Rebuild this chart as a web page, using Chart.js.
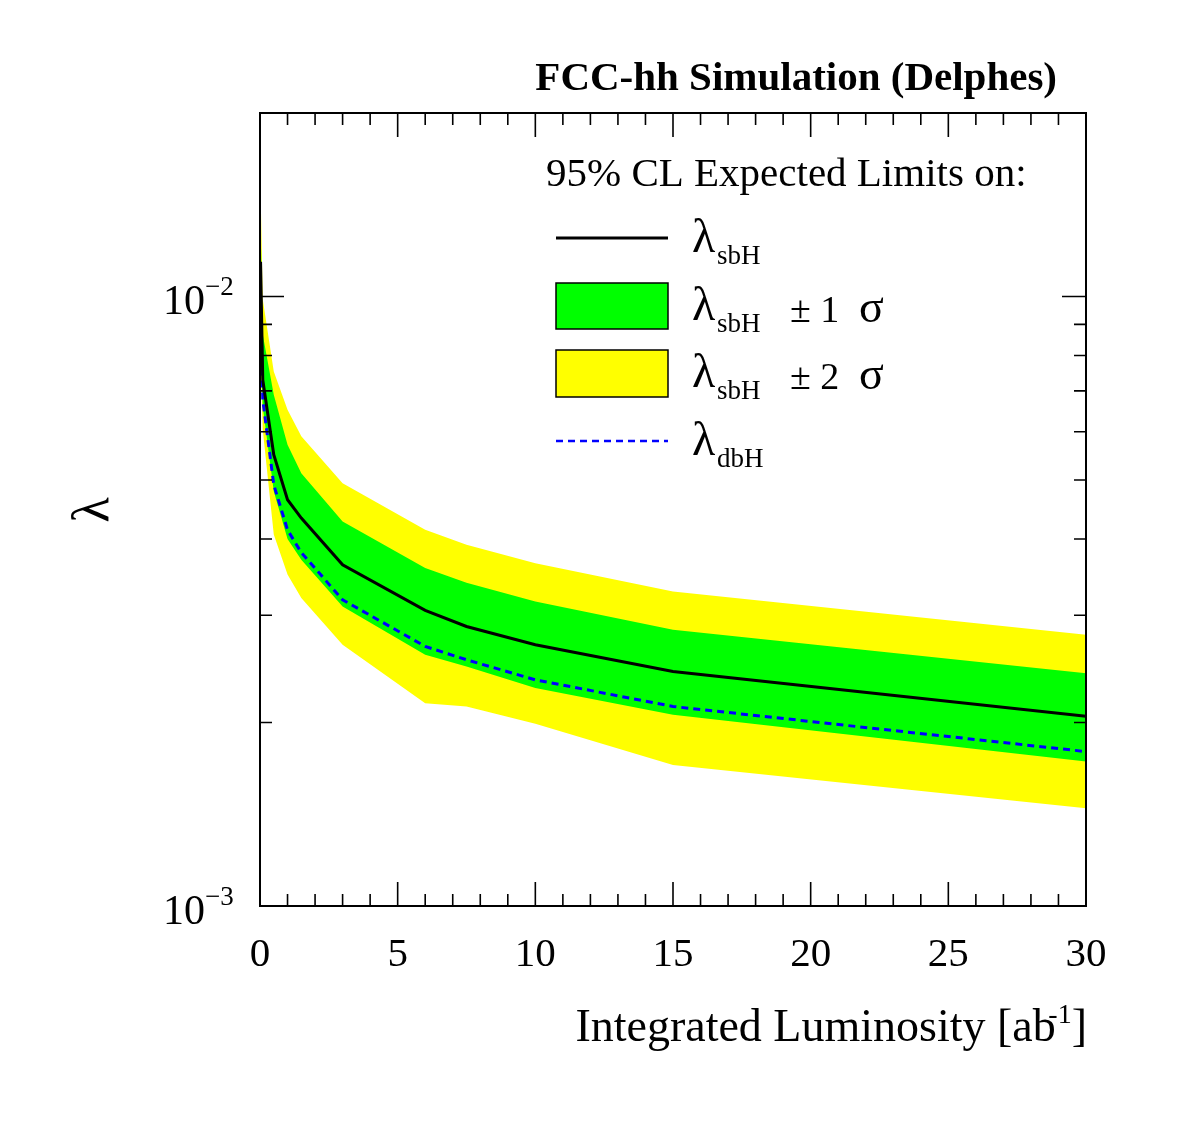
<!DOCTYPE html>
<html>
<head>
<meta charset="utf-8">
<script src="https://cdn.jsdelivr.net/npm/chart.js@4.4.1/dist/chart.umd.min.js"></script>
<style>
  body { margin: 0; background: #fff; }
  #wrap { width: 1182px; height: 1134px; }
</style>
</head>
<body>
<div id="wrap"><canvas id="myChart" width="1182" height="1134"></canvas></div>
<script>
// integrated luminosity [ab^-1]
let lumi   = [0.02, 0.1, 0.5, 1, 1.5, 3, 6, 7.5, 10, 15, 30];
// expected limits
let sbH    = [0.0114, 0.0073, 0.0055, 0.00464, 0.00433, 0.00363, 0.003055, 0.002875, 0.002683, 0.002426, 0.002047];
let dbH    = [0.0100, 0.00677, 0.00491, 0.00414, 0.0038, 0.00318, 0.002666, 0.002535, 0.00235, 0.002125, 0.001792];
let plus1  = [0.0131, 0.00866, 0.0069, 0.00571, 0.00513, 0.004275, 0.003585, 0.00339, 0.00316, 0.00284, 0.00241];
let minus1 = [0.0085, 0.0066, 0.00479, 0.0040, 0.0037, 0.0031, 0.002584, 0.002472, 0.002278, 0.00206, 0.001726];
let plus2  = [0.015, 0.0099, 0.00753, 0.00652, 0.0059, 0.00494, 0.004143, 0.003915, 0.003652, 0.003281, 0.002786];
let minus2 = [0.0079, 0.00605, 0.00407, 0.0035, 0.0032, 0.002683, 0.00215, 0.002125, 0.00199, 0.001704, 0.001446];

let xTicks = [0, 5, 10, 15, 20, 25, 30];
let yTicks = [0.001, 0.01];
let yTickExp = ["\u22123", "\u22122"];

function pts(arr) {
  return lumi.map((x, i) => ({x: x, y: arr[i]}));
}

const serif = '"Liberation Serif", "DejaVu Serif", serif';

// ROOT-like frame, inward ticks, labels and legend
const rootStyle = {
  id: 'rootStyle',
  afterDraw(chart) {
    let ctx = chart.ctx;
    let a = chart.chartArea;
    let xs = chart.scales.x, ys = chart.scales.y;
    ctx.save();
    ctx.strokeStyle = '#000';
    ctx.lineWidth = 2;
    ctx.strokeRect(a.left, a.top, a.right - a.left, a.bottom - a.top);

    ctx.lineWidth = 1.6;
    ctx.beginPath();
    for (let v = 0; v <= 30; v++) {
      let px = xs.getPixelForValue(v);
      let len = (v % 5 == 0) ? 24 : 12;
      ctx.moveTo(px, a.bottom); ctx.lineTo(px, a.bottom - len);
      ctx.moveTo(px, a.top); ctx.lineTo(px, a.top + len);
    }
    for (let d = 0.001; d <= 0.01; d *= 10) {
      for (let m = 1; m <= 9; m++) {
        let v = d * m;
        if (v > 0.02 + 1e-9) continue;
        let py = ys.getPixelForValue(v);
        let len = (m == 1) ? 24 : 12;
        ctx.moveTo(a.left, py); ctx.lineTo(a.left + len, py);
        ctx.moveTo(a.right, py); ctx.lineTo(a.right - len, py);
      }
    }
    ctx.stroke();

    ctx.fillStyle = '#000';
    // x tick labels
    ctx.font = '41px ' + serif;
    ctx.textAlign = 'center';
    ctx.textBaseline = 'alphabetic';
    xTicks.forEach(v => {
      ctx.fillText(String(v), xs.getPixelForValue(v), 966);
    });
    // y tick labels 10^n
    yTicks.forEach((v, i) => {
      let py = ys.getPixelForValue(v);
      ctx.font = '42px ' + serif;
      ctx.textAlign = 'right';
      ctx.fillText('10', 205, py + 18);
      ctx.font = '27px ' + serif;
      ctx.textAlign = 'left';
      ctx.fillText(yTickExp[i], 205, py - 1);
    });

    // x title
    ctx.font = '46px ' + serif;
    ctx.textAlign = 'right';
    ctx.fillText(']', 1087, 1041);
    let w1 = ctx.measureText(']').width;
    ctx.font = '28px ' + serif;
    ctx.fillText('-1', 1087 - w1, 1023);
    let w2 = ctx.measureText('1').width;
    ctx.font = '46px ' + serif;
    ctx.fillText('Integrated Luminosity [ab', 1087 - w1 - w2 - 2, 1041);

    // y title (rotated lambda)
    ctx.save();
    ctx.translate(108, 510);
    ctx.rotate(-Math.PI / 2);
    ctx.font = '52px ' + serif;
    ctx.textAlign = 'center';
    ctx.fillText('\u03bb', 0, 0);
    ctx.restore();

    // header
    ctx.font = 'bold 41px ' + serif;
    ctx.textAlign = 'right';
    ctx.fillText('FCC-hh Simulation (Delphes)', 1057, 90);

    // legend
    ctx.font = '41px ' + serif;
    ctx.textAlign = 'left';
    ctx.fillText('95% CL Expected Limits on:', 546, 186);

    let lx0 = 556, lx1 = 668, tx = 693;
    ctx.lineWidth = 3;
    ctx.strokeStyle = '#000';
    ctx.beginPath(); ctx.moveTo(lx0, 238); ctx.lineTo(lx1, 238); ctx.stroke();

    ctx.lineWidth = 1.5;
    ctx.fillStyle = '#00ff00';
    ctx.fillRect(lx0, 283, lx1 - lx0, 46);
    ctx.strokeRect(lx0, 283, lx1 - lx0, 46);
    ctx.fillStyle = '#ffff00';
    ctx.fillRect(lx0, 350, lx1 - lx0, 47);
    ctx.strokeRect(lx0, 350, lx1 - lx0, 47);

    ctx.strokeStyle = '#0000ff';
    ctx.lineWidth = 2.5;
    ctx.setLineDash([7, 5]);
    ctx.beginPath(); ctx.moveTo(lx0, 441); ctx.lineTo(lx1, 441); ctx.stroke();
    ctx.setLineDash([]);

    ctx.fillStyle = '#000';
    let rows = [[252, 'sbH', ''], [320, 'sbH', '1'], [387, 'sbH', '2'], [455, 'dbH', '']];
    rows.forEach(r => {
      ctx.font = '48px ' + serif;
      ctx.fillText('\u03bb', tx - 1, r[0]);
      ctx.font = '27px ' + serif;
      ctx.fillText(r[1], tx + 24, r[0] + 12);
      if (r[2]) {
        ctx.font = '38px ' + serif;
        ctx.fillText('\u00b1 ' + r[2], 790, r[0] + 2);
        ctx.font = '46px ' + serif;
        ctx.fillText('\u03c3', 859, r[0] + 2);
      }
    });
    ctx.restore();
  }
};

let ctx = document.getElementById('myChart').getContext('2d');
let chart = new Chart(ctx, {
  type: 'line',
  data: {
    datasets: [
      { label: 'sbH', data: pts(sbH), borderColor: '#000', borderWidth: 3, order: 0, fill: false },
      { label: 'dbH', data: pts(dbH), borderColor: '#0000ff', borderWidth: 3, borderDash: [7, 5], order: 1, fill: false },
      { label: '+1 sigma', data: pts(plus1), borderWidth: 0, backgroundColor: '#00ff00', fill: 3, order: 2 },
      { label: '-1 sigma', data: pts(minus1), borderWidth: 0, order: 3, fill: false },
      { label: '+2 sigma', data: pts(plus2), borderWidth: 0, backgroundColor: '#ffff00', fill: 5, order: 4 },
      { label: '-2 sigma', data: pts(minus2), borderWidth: 0, order: 5, fill: false }
    ]
  },
  options: {
    responsive: false,
    animation: false,
    events: [],
    layout: { padding: { left: 260, top: 113, right: 96, bottom: 228 } },
    elements: { point: { radius: 0 }, line: { tension: 0 } },
    plugins: { legend: { display: false }, tooltip: { enabled: false } },
    scales: {
      x: { type: 'linear', min: 0, max: 30, display: false },
      y: { type: 'logarithmic', min: 0.001, max: 0.02, display: false }
    }
  },
  plugins: [rootStyle]
});
</script>
</body>
</html>
